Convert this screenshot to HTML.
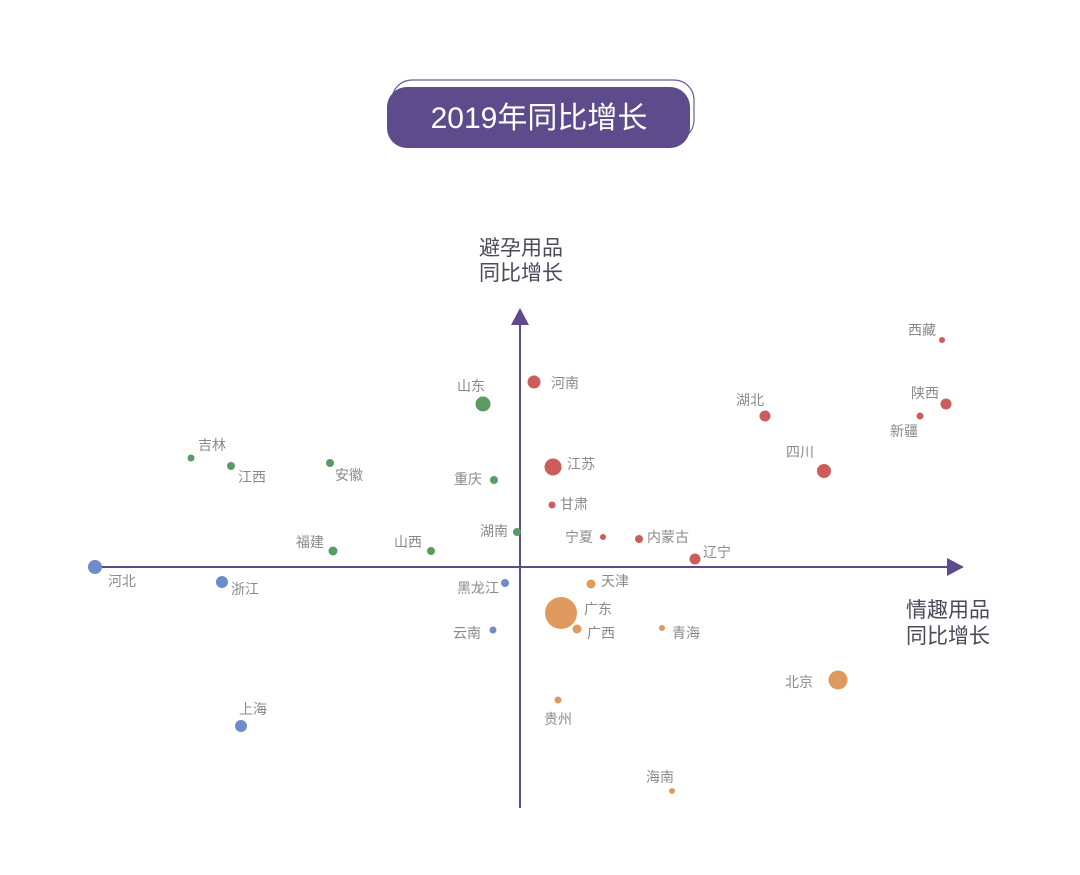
<!DOCTYPE html>
<html><head><meta charset="utf-8"><style>
html,body{margin:0;padding:0;background:#fff;}
svg{display:block;font-family:"Liberation Sans","Noto Sans CJK SC",sans-serif;}
.l{font-size:14px;fill:#8a8a8a;}
.a{font-size:21px;fill:#4a4a5a;}
</style></head><body>
<svg width="1080" height="875" viewBox="0 0 1080 875">
<rect x="392" y="80" width="302" height="60" rx="20" fill="none" stroke="#6a5a9a" stroke-width="1.2"/>
<rect x="387" y="87" width="303" height="61" rx="20" fill="#5e4b8b"/>
<text x="539" y="128" text-anchor="middle" font-size="30" fill="#fff">2019年同比增长</text>

<line x1="520" y1="322" x2="520" y2="808" stroke="#5e4b8b" stroke-width="2"/>
<polygon points="520,308 511,325 529,325" fill="#5e4b8b"/>
<line x1="92" y1="567" x2="950" y2="567" stroke="#5e4b8b" stroke-width="2"/>
<polygon points="964,567 947,558 947,576" fill="#5e4b8b"/>

<text class="a" x="521" y="255" text-anchor="middle">避孕用品</text>
<text class="a" x="521" y="280" text-anchor="middle">同比增长</text>
<text class="a" x="948" y="617" text-anchor="middle">情趣用品</text>
<text class="a" x="948" y="643" text-anchor="middle">同比增长</text>

<g fill="#cd5c5c">
<circle cx="534" cy="382" r="6.5"/><circle cx="553" cy="467" r="8.5"/><circle cx="552" cy="505" r="3.5"/>
<circle cx="603" cy="537" r="3"/><circle cx="639" cy="539" r="4"/><circle cx="695" cy="559" r="5.5"/>
<circle cx="942" cy="340" r="3"/><circle cx="765" cy="416" r="5.5"/><circle cx="946" cy="404" r="5.5"/>
<circle cx="920" cy="416" r="3.5"/><circle cx="824" cy="471" r="7"/>
</g>
<g fill="#5a9a64">
<circle cx="483" cy="404" r="7.5"/><circle cx="494" cy="480" r="4"/><circle cx="517" cy="532" r="4"/>
<circle cx="191" cy="458" r="3.5"/><circle cx="231" cy="466" r="4"/><circle cx="330" cy="463" r="4"/>
<circle cx="333" cy="551" r="4.5"/><circle cx="431" cy="551" r="4"/>
</g>
<g fill="#6f8bca">
<circle cx="505" cy="583" r="4"/><circle cx="493" cy="630" r="3.5"/><circle cx="95" cy="567" r="7"/>
<circle cx="222" cy="582" r="6"/><circle cx="241" cy="726" r="6"/>
</g>
<g fill="#e09a5f">
<circle cx="591" cy="584" r="4.5"/><circle cx="561" cy="613" r="16"/><circle cx="577" cy="629" r="4.5"/>
<circle cx="662" cy="628" r="3"/><circle cx="838" cy="680" r="9.5"/><circle cx="558" cy="700" r="3.5"/>
<circle cx="672" cy="791" r="3"/>
</g>

<g class="l">
<text x="551" y="388">河南</text><text x="457" y="391">山东</text><text x="567" y="469">江苏</text>
<text x="454" y="484">重庆</text><text x="560" y="509">甘肃</text><text x="480" y="536">湖南</text>
<text x="565" y="542">宁夏</text><text x="647" y="542">内蒙古</text><text x="703" y="557">辽宁</text>
<text x="601" y="586">天津</text><text x="584" y="614">广东</text><text x="587" y="638">广西</text>
<text x="672" y="638">青海</text><text x="457" y="593">黑龙江</text><text x="453" y="638">云南</text>
<text x="108" y="586">河北</text><text x="231" y="594">浙江</text><text x="239" y="714">上海</text>
<text x="198" y="450">吉林</text><text x="238" y="482">江西</text><text x="335" y="480">安徽</text>
<text x="296" y="547">福建</text><text x="394" y="547">山西</text><text x="908" y="335">西藏</text>
<text x="736" y="405">湖北</text><text x="911" y="398">陕西</text><text x="890" y="436">新疆</text>
<text x="786" y="457">四川</text><text x="785" y="687">北京</text><text x="544" y="724">贵州</text>
<text x="646" y="782">海南</text>
</g>
</svg>
</body></html>
